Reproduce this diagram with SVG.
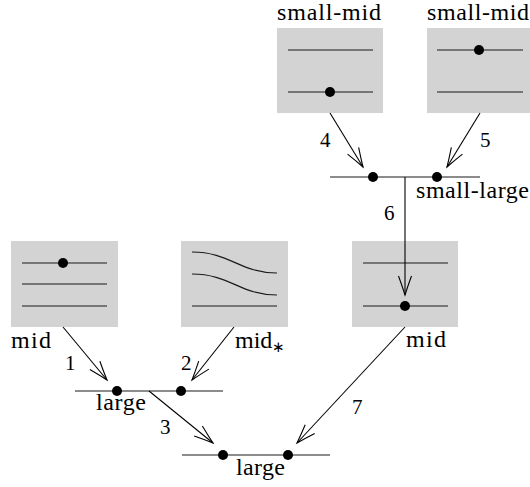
<svg xmlns="http://www.w3.org/2000/svg" width="530" height="487" viewBox="0 0 530 487">
<style>
.box{fill:#d3d3d3;stroke:none}
.ln{stroke:#1a1a1a;stroke-width:1.2;fill:none}
.dot{fill:#000}
.t{font-family:"Liberation Serif",serif;font-size:24px;fill:#000}
.n{font-family:"Liberation Serif",serif;font-size:21px;fill:#000}
.ar{stroke:#000;stroke-width:1.1;fill:none;marker-end:url(#arr)}
</style>
<defs>
<marker id="arr" markerUnits="userSpaceOnUse" viewBox="-22 -9 24 18" markerWidth="24" markerHeight="18" refX="0" refY="0" orient="auto" overflow="visible">
<path d="M-19 -6.5 Q-8 -2.5 0 0 Q-8 2.5 -19 6.5" stroke="#000" stroke-width="1.1" fill="none"/>
</marker>
</defs>
<rect width="530" height="487" fill="#fff"/>

<g id="sm1">
<rect class="box" x="277" y="28" width="106" height="85"/>
<line class="ln" x1="288" y1="50" x2="373" y2="50"/>
<line class="ln" x1="288" y1="92" x2="373" y2="92"/>
<circle class="dot" cx="330" cy="92" r="5"/>
<text class="t" x="277" y="20" textLength="104">small-mid</text>
</g>

<g id="sm2">
<rect class="box" x="427" y="28" width="106" height="85"/>
<line class="ln" x1="437" y1="50" x2="523" y2="50"/>
<line class="ln" x1="437" y1="92" x2="523" y2="92"/>
<circle class="dot" cx="479" cy="50" r="5"/>
<text class="t" x="427" y="20" textLength="102">small-mid</text>
</g>

<g id="smalllarge">
<line class="ln" x1="330" y1="177" x2="480" y2="177"/>
<circle class="dot" cx="373" cy="177" r="5"/>
<circle class="dot" cx="437" cy="177" r="5"/>
<text class="t" x="416" y="198" textLength="113">small-large</text>
</g>

<g id="midR">
<rect class="box" x="352" y="241" width="106" height="86"/>
<line class="ln" x1="363" y1="263" x2="448" y2="263"/>
<line class="ln" x1="363" y1="306" x2="448" y2="306"/>
<circle class="dot" cx="405" cy="306" r="5"/>
<text class="t" x="406" y="347" textLength="40">mid</text>
</g>

<g id="midL">
<rect class="box" x="11" y="241" width="107" height="86"/>
<line class="ln" x1="22" y1="263" x2="107" y2="263"/>
<line class="ln" x1="22" y1="284" x2="107" y2="284"/>
<line class="ln" x1="22" y1="306" x2="107" y2="306"/>
<circle class="dot" cx="63" cy="263" r="5"/>
<text class="t" x="11" y="348" textLength="40">mid</text>
</g>

<g id="midStar">
<rect class="box" x="181" y="241" width="107" height="86"/>
<path class="ln" d="M192 252 C230 252 240 273 277 273"/>
<path class="ln" d="M192 274 C230 274 240 295 277 295"/>
<line class="ln" x1="192" y1="306" x2="277" y2="306"/>
<text class="t" x="235" y="348">mid<tspan font-size="15" dy="4">∗</tspan></text>
</g>

<g id="large1">
<line class="ln" x1="75" y1="391" x2="223" y2="391"/>
<circle class="dot" cx="117" cy="391" r="5"/>
<circle class="dot" cx="181" cy="391" r="5"/>
<text class="t" x="96" y="410" textLength="50">large</text>
</g>

<g id="large2">
<line class="ln" x1="182" y1="455" x2="330" y2="455"/>
<circle class="dot" cx="223" cy="455" r="5"/>
<circle class="dot" cx="288" cy="455" r="5"/>
<text class="t" x="236" y="475" textLength="49">large</text>
</g>

<g id="connectors">
<line class="ar" x1="330" y1="113" x2="363" y2="167"/>
<line class="ar" x1="480" y1="113" x2="447" y2="167"/>
<line class="ar" x1="405" y1="177" x2="405" y2="295"/>
<line class="ar" x1="63" y1="327" x2="107" y2="380"/>
<line class="ar" x1="234" y1="327" x2="192" y2="380"/>
<line class="ar" x1="149" y1="391" x2="213" y2="443"/>
<line class="ar" x1="405" y1="327" x2="297" y2="443"/>
<text class="n" x="320" y="147">4</text>
<text class="n" x="480" y="147">5</text>
<text class="n" x="384" y="220">6</text>
<text class="n" x="65" y="370">1</text>
<text class="n" x="181" y="370">2</text>
<text class="n" x="160" y="434">3</text>
<text class="n" x="352" y="414">7</text>
</g>
</svg>
